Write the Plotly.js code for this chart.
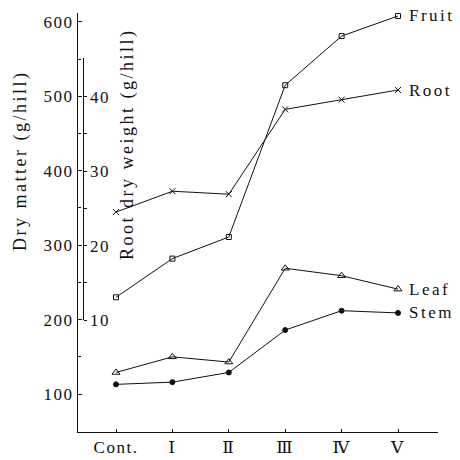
<!DOCTYPE html>
<html>
<head>
<meta charset="utf-8">
<script src="https://cdn.plot.ly/plotly-3.0.1.min.js"></script>
<style>
  html, body { margin: 0; padding: 0; background: #fff; }
  #chart { width: 460px; height: 460px; }
  .xtick text, .ytick text, .y2tick text { letter-spacing: 1.5px; }
  .annotation-text { letter-spacing: 2.5px; }
</style>
</head>
<body>
<div id="chart"></div>
<script>
// Treatments along the x axis
const categories = ['Cont.', 'Ⅰ', 'Ⅱ', 'Ⅲ', 'Ⅳ', 'Ⅴ'];

// Dry matter, g/hill (left axis)
const fruit = [230, 282, 311, 515, 581, 608];
const leaf  = [129, 150, 143, 269, 259, 241];
const stem  = [113, 116, 129, 186, 212, 209];

// Root dry weight, g/hill (inner axis)
const root = [24.5, 27.3, 26.9, 38.3, 39.6, 40.9];

// Axis tick values
const dryTicks = [100, 200, 300, 400, 500, 600];
const dryMinor = [150, 250, 350, 450, 550];
const rootTicks = [10, 20, 30, 40];
const rootMinor = [15, 25, 35];

const FONT = 'Liberation Serif, Times New Roman, DejaVu Serif, serif';
const INK = '#111';

function series(name, y, axis, symbol, size) {
  return {
    type: 'scatter', mode: 'lines+markers', name: name,
    x: categories, y: y, yaxis: axis,
    line: { color: INK, width: 1 },
    marker: { symbol: symbol, size: size, color: INK, line: { color: INK, width: 1 } },
    cliponaxis: false, showlegend: false
  };
}

const traces = [
  series('Fruit', fruit, 'y', 'square-open', 5),
  series('Leaf', leaf, 'y', 'triangle-up-open', 7),
  series('Stem', stem, 'y', 'circle', 5),
  series('Root', root, 'y2', 'x-thin-open', 6)
];

const last = categories.length - 1;
function endLabel(text, y, yref) {
  return {
    text: text, x: categories[last], y: y, xref: 'x', yref: yref,
    xanchor: 'left', yanchor: 'middle', xshift: 9, showarrow: false,
    font: { family: FONT, size: 17, color: INK }
  };
}

const layout = {
  width: 460, height: 460,
  margin: { l: 78, r: 22, t: 13, b: 28 },
  paper_bgcolor: '#fff', plot_bgcolor: 'rgba(0,0,0,0)',
  showlegend: false,
  font: { family: FONT, color: INK },
  xaxis: {
    type: 'category', range: [-0.674, 5.709],
    showline: true, linecolor: INK, linewidth: 1,
    ticks: 'inside', ticklen: 3, tickcolor: INK,
    showgrid: false, zeroline: false,
    tickfont: { family: FONT, size: 17, color: INK }
  },
  yaxis: {
    range: [49, 612],
    tickvals: dryTicks, ticktext: dryTicks.map(String),
    showline: true, linecolor: INK, linewidth: 1,
    ticks: 'inside', ticklen: 4, tickcolor: INK,
    minor: { tickvals: dryMinor, ticks: 'inside', ticklen: 3, tickcolor: INK },
    showgrid: false, zeroline: false,
    tickfont: { family: FONT, size: 17, color: INK }
  },
  yaxis2: {
    domain: [0.2673, 0.8926], range: [10, 45.2],
    anchor: 'free', position: 0.0125, side: 'right',
    tickvals: rootTicks, ticktext: rootTicks.map(String),
    showline: true, linecolor: INK, linewidth: 1,
    ticks: 'outside', ticklen: 3, tickcolor: INK,
    minor: { tickvals: rootMinor, ticks: 'outside', ticklen: 3, tickcolor: INK },
    showgrid: false, zeroline: false,
    tickfont: { family: FONT, size: 17, color: INK }
  },
  annotations: [
    {
      text: 'Dry matter (g/hill)', textangle: -90,
      xref: 'paper', yref: 'paper', x: -0.158, y: 0.647,
      xanchor: 'center', yanchor: 'middle', showarrow: false,
      font: { family: FONT, size: 18, color: INK }
    },
    {
      text: 'Root dry weight (g/hill)', textangle: -90,
      xref: 'paper', yref: 'paper', x: 0.139, y: 0.685,
      xanchor: 'center', yanchor: 'middle', showarrow: false,
      font: { family: FONT, size: 18, color: INK }
    },
    endLabel('Fruit', fruit[last], 'y'),
    endLabel('Root', root[last], 'y2'),
    endLabel('Leaf', leaf[last], 'y'),
    endLabel('Stem', stem[last], 'y')
  ]
};

Plotly.newPlot('chart', traces, layout, { staticPlot: true, displayModeBar: false });
</script>
</body>
</html>
